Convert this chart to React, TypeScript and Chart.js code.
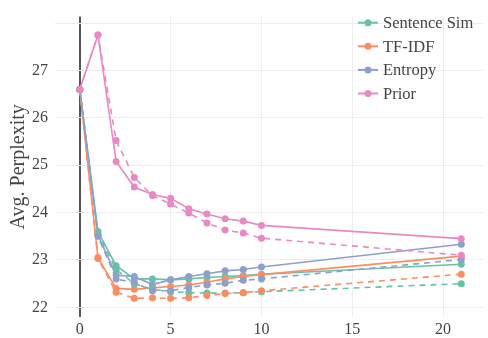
import React, { useEffect, useRef } from "react";
import { Chart, registerables } from "chart.js";

Chart.register(...registerables);

const xs = [0, 1, 2, 3, 4, 5, 6, 7, 8, 9, 10, 21];
const seriesNames = ["Sentence Sim", "TF-IDF", "Entropy", "Prior"];
const seriesColors = ["#66c2a5", "#fc8d62", "#8da0cb", "#e78ac3"];

const sentSimSolid = [26.6, 23.6, 22.88, 22.6, 22.6, 22.58, 22.6, 22.63, 22.65, 22.67, 22.7, 22.91];
const sentSimDashed = [26.6, 23.55, 22.8, 22.5, 22.38, 22.33, 22.31, 22.3, 22.3, 22.31, 22.33, 22.5];
const tfidfSolid = [26.6, 23.05, 22.4, 22.38, 22.41, 22.44, 22.47, 22.53, 22.6, 22.65, 22.69, 23.08];
const tfidfDashed = [26.6, 23.03, 22.32, 22.19, 22.2, 22.19, 22.2, 22.25, 22.29, 22.31, 22.35, 22.7];
const entropySolid = [26.6, 23.52, 22.68, 22.65, 22.48, 22.58, 22.65, 22.71, 22.77, 22.8, 22.85, 23.33];
const entropyDashed = [26.6, 23.5, 22.6, 22.52, 22.35, 22.35, 22.42, 22.47, 22.51, 22.57, 22.6, 23.01];
const priorSolid = [26.6, 27.75, 25.08, 24.54, 24.38, 24.3, 24.08, 23.97, 23.87, 23.82, 23.73, 23.45];
const priorDashed = [26.6, 27.75, 25.52, 24.74, 24.36, 24.18, 23.99, 23.78, 23.63, 23.57, 23.46, 23.1];

const solidSeries = [sentSimSolid, tfidfSolid, entropySolid, priorSolid];
const dashedSeries = [sentSimDashed, tfidfDashed, entropyDashed, priorDashed];

const yTickLabels = [22, 23, 24, 25, 26, 27];
const xTickLabels = [0, 5, 10, 15, 20];

const FONT = '"Liberation Serif", "Times New Roman", serif';

const legendPlugin = {
  id: "plotlyLegend",
  afterDraw(chart: any) {
    const ctx = chart.ctx;
    ctx.save();
    ctx.font = `16.5px ${FONT}`;
    ctx.textBaseline = "middle";
    ctx.textAlign = "left";
    seriesNames.forEach((name, i) => {
      const y = 22.7 + i * 23.6;
      ctx.strokeStyle = seriesColors[i];
      ctx.lineWidth = 2;
      ctx.beginPath();
      ctx.moveTo(358, y);
      ctx.lineTo(378, y);
      ctx.stroke();
      ctx.fillStyle = seriesColors[i];
      ctx.beginPath();
      ctx.arc(368, y, 3.5, 0, Math.PI * 2);
      ctx.fill();
      ctx.fillStyle = "#444";
      ctx.fillText(name, 383, y + 1);
    });
    ctx.restore();
  },
};

export default function App() {
  const ref = useRef<HTMLCanvasElement>(null);
  useEffect(() => {
    document.body.style.margin = "0";
    const datasets: any[] = [];
    solidSeries.forEach((vals, i) => {
      datasets.push({
        label: seriesNames[i],
        data: xs.map((x, j) => ({ x, y: vals[j] })),
        borderColor: seriesColors[i],
        backgroundColor: seriesColors[i],
        borderWidth: 1.6,
        pointRadius: 3.5,
        pointBorderWidth: 0,
        tension: 0,
        order: 20 - i,
      });
    });
    dashedSeries.forEach((vals, i) => {
      datasets.push({
        label: seriesNames[i] + " (dashed)",
        data: xs.map((x, j) => ({ x, y: vals[j] })),
        borderColor: seriesColors[i],
        backgroundColor: seriesColors[i],
        borderWidth: 1.6,
        borderDash: [6, 5],
        pointRadius: 3.5,
        pointBorderWidth: 0,
        tension: 0,
        order: 10 - i,
      });
    });
    const chart = new Chart(ref.current!, {
      type: "line",
      data: { datasets },
      plugins: [legendPlugin],
      options: {
        responsive: false,
        animation: false,
        layout: { padding: { top: 6, right: 0, left: 0, bottom: 0 } },
        plugins: { legend: { display: false }, tooltip: { enabled: false } },
        scales: {
          x: {
            type: "linear",
            min: -1.364,
            max: 22.25,
            afterFit: (s: any) => { s.height = 21; },
            afterBuildTicks: (s: any) => { s.ticks = xTickLabels.map((v) => ({ value: v })); },
            border: { display: false },
            grid: {
              drawTicks: false,
              color: (c: any) => (c.tick && c.tick.value === 0 ? "#555" : "#eeeeee"),
              lineWidth: (c: any) => (c.tick && c.tick.value === 0 ? 2 : 1),
            },
            ticks: {
              padding: 3,
              color: "#444",
              font: { family: FONT, size: 16 },
              maxRotation: 0,
              callback: (v: any) => String(v),
            },
          },
          y: {
            type: "linear",
            min: 21.796,
            max: 28.137,
            afterFit: (s: any) => { s.width = 55; },
            afterBuildTicks: (s: any) => { s.ticks = [...yTickLabels, 28].map((v) => ({ value: v })); },
            border: { display: false },
            grid: { drawTicks: false, color: "#eeeeee", lineWidth: 1 },
            ticks: {
              padding: 7,
              color: "#444",
              font: { family: FONT, size: 16 },
              callback: (v: any) => (v === 28 ? "" : String(v)),
            },
            title: {
              display: true,
              text: "Avg. Perplexity",
              color: "#444",
              font: { family: FONT, size: 20 },
              padding: { top: 7, bottom: 0 },
            },
          },
        },
      },
    });
    return () => chart.destroy();
  }, []);
  return <canvas ref={ref} width={488} height={338} style={{ display: "block" }} />;
}
